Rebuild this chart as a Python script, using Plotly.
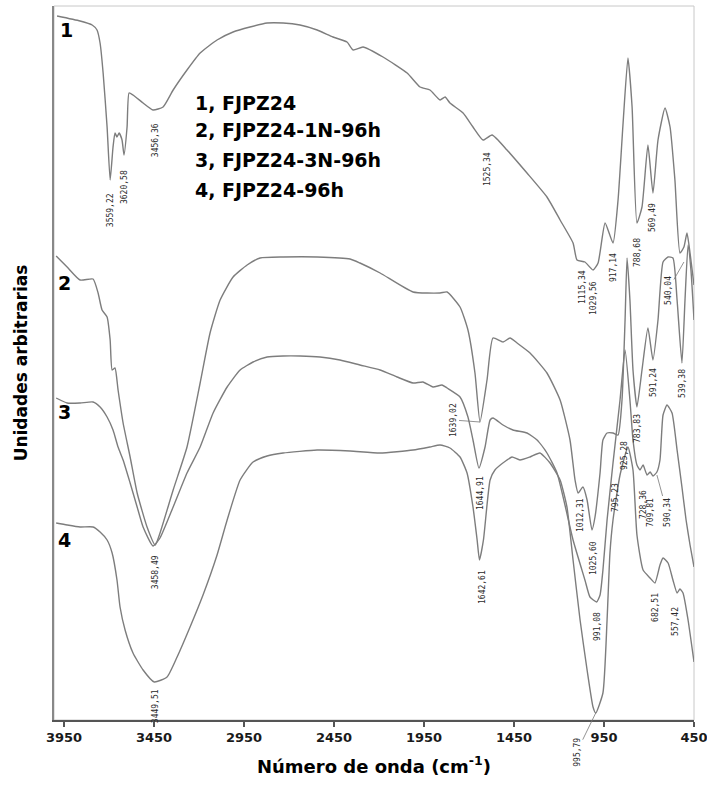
import plotly.graph_objects as go

# ---------------- data (wavenumber cm-1, arbitrary units) ----------------
wn1 = [3989, 3861, 3794, 3767, 3750, 3733, 3711, 3694, 3678, 3667, 3656, 3644, 3628, 3617, 3600, 3589, 3567,
       3511, 3456, 3400, 3344, 3267, 3194, 3100, 3011, 2917, 2822, 2733, 2639, 2544, 2456, 2378, 2344, 2289,
       2178, 2044, 1972, 1917, 1861, 1833, 1806, 1733, 1678, 1622, 1572, 1489, 1378, 1267, 1194, 1122, 1100,
       1056, 1011, 983, 944, 900, 872, 844, 817, 794, 767, 739, 706, 678, 650, 611, 583, 556, 528, 506, 489,
       472, 450]
ab1 = [704, 699, 695, 690, 677, 647, 593, 540, 573, 587, 583, 587, 580, 565, 593, 627, 625,
       617, 610, 613, 630, 650, 667, 680, 688, 693, 697, 697, 695, 690, 683, 678, 670, 673,
       663, 647, 633, 630, 620, 623, 617, 607, 593, 580, 585, 570, 547, 523, 500, 477, 460,
       458, 450, 457, 497, 477, 520, 597, 662, 613, 497, 513, 575, 527, 580, 612, 593, 540, 467, 473, 487,
       467, 435]

wn2 = [3994, 3933, 3861, 3789, 3761, 3739, 3711, 3694, 3683, 3667, 3650, 3622, 3583, 3544, 3489, 3444, 3417,
       3344, 3267, 3194, 3139, 3083, 3011, 2933, 2861, 2733, 2544, 2361, 2306, 2194, 2011, 1861, 1822, 1750,
       1706, 1667, 1639, 1600, 1567, 1511, 1472, 1433, 1361, 1267, 1194, 1139, 1111, 1094, 1067, 1044, 1017,
       1000, 972, 956, 933, 900, 872, 850, 833, 822, 806, 789, 767, 739, 706, 678, 650, 622, 594, 567, 544,
       517, 500, 483, 467, 450]
ab2 = [464, 453, 440, 441, 427, 410, 403, 380, 350, 352, 330, 297, 263, 227, 193, 175, 187,
       230, 273, 337, 387, 420, 443, 455, 462, 463, 463, 461, 457, 447, 428, 427, 428, 413,
       390, 347, 298, 340, 382, 378, 382, 377, 367, 347, 320, 280, 240, 227, 233, 220, 190,
       203, 247, 280, 287, 287, 285, 320, 400, 462, 420, 350, 313, 350, 392, 360, 400, 458, 463, 462, 420,
       357, 420, 475, 450, 400]

wn3 = [3994, 3933, 3861, 3789, 3750, 3711, 3678, 3650, 3622, 3583, 3544, 3511, 3456, 3417, 3344, 3267, 3194,
       3122, 3044, 2972, 2900, 2822, 2733, 2639, 2528, 2417, 2306, 2194, 2100, 2011, 1956, 1900, 1850, 1822,
       1750, 1706, 1678, 1645, 1611, 1583, 1567, 1511, 1456, 1378, 1322, 1267, 1211, 1167, 1122, 1056, 1028,
       991, 972, 956, 933, 900, 861, 833, 806, 789, 767, 750, 733, 711, 694, 678, 656, 639, 622, 600, 572,
       544, 517, 494, 472, 450]
ab3 = [322, 317, 317, 318, 313, 303, 290, 273, 260, 237, 213, 193, 174, 182, 213, 247, 273,
       307, 333, 350, 358, 363, 364, 364, 363, 360, 355, 350, 343, 337, 338, 333, 335, 332,
       323, 303, 280, 252, 273, 300, 302, 295, 290, 287, 280, 267, 247, 215, 180, 140, 123,
       118, 125, 150, 200, 257, 320, 370, 320, 280, 255, 250, 255, 245, 248, 244, 248, 260, 305, 315, 307,
       270, 233, 200, 175, 153]

wn4 = [3994, 3933, 3861, 3789, 3750, 3711, 3683, 3656, 3639, 3611, 3567, 3511, 3449, 3378, 3322, 3250, 3178,
       3100, 3044, 2972, 2900, 2822, 2733, 2544, 2361, 2194, 2011, 1917, 1861, 1806, 1750, 1711, 1678, 1655,
       1642, 1620, 1583, 1556, 1489, 1461, 1417, 1361, 1306, 1250, 1194, 1156, 1122, 1083, 1044, 1011, 996,
       956, 933, 917, 900, 861, 817, 789, 767, 733, 694, 667, 639, 622, 594, 567, 544, 528, 511, 483, 450]
ab4 = [197, 195, 193, 193, 188, 180, 167, 140, 113, 90, 67, 50, 38, 43, 63, 93, 125,
       165, 200, 240, 258, 264, 267, 270, 269, 267, 270, 273, 275, 272, 263, 247, 213, 180,
       160, 180, 240, 250, 260, 263, 260, 263, 267, 257, 240, 213, 160, 100, 50, 13, 7,
       27, 100, 167, 200, 245, 273, 250, 185, 150, 142, 137, 155, 162, 157, 140, 127, 131, 127, 100, 58]

series_names = ["1, FJPZ24", "2, FJPZ24-1N-96h", "3, FJPZ24-3N-96h", "4, FJPZ24-96h"]
curve_numbers = ["1", "2", "3", "4"]
curve_number_pos = [(3939, 690), (3950, 437), (3950, 308), (3950, 180)]

tick_vals = [3950, 3450, 2950, 2450, 1950, 1450, 950, 450]

# peak labels: (text, wavenumber, a.u.)
peak_labels = [
    ("3559,22", 3694, 510), ("3620,58", 3617, 533), ("3456,36", 3444, 580), ("1525,34", 1600, 551),
    ("1115,34", 1072, 433), ("1029,56", 1011, 422), ("917,14", 900, 452), ("788,68", 767, 468),
    ("569,49", 683, 502),
    ("3458,49", 3444, 148), ("1012,31", 1083, 205), ("925,28", 839, 265), ("783,83", 767, 292),
    ("591,24", 678, 338), ("539,38", 517, 337),
    ("1644,91", 1639, 227), ("1025,60", 1011, 162), ("991,08", 989, 94), ("795,23", 889, 223),
    ("728,36", 733, 215), ("709,81", 694, 207),
    ("3449,51", 3444, 14), ("1642,61", 1628, 133), ("682,51", 667, 113), ("557,42", 556, 99),
]
# labels with leader lines: (text, peak wavenumber, peak a.u., dx px, dy px)
leader_labels = [
    ("995,79", 996, 7, -19, 39),
    ("540,04", 506, 458, -16, 28),
    ("1639,02", 1639, 298, -27, -2),
    ("590,34", 656, 245, 10, 37),
]

# ---------------- figure ----------------
fig = go.Figure()
line_style = dict(color="#7d7d7d", width=1.4, shape="spline", smoothing=0.5)
for wn, ab, nm in [(wn1, ab1, series_names[0]), (wn2, ab2, series_names[1]),
                   (wn3, ab3, series_names[2]), (wn4, ab4, series_names[3])]:
    fig.add_trace(go.Scatter(x=wn, y=ab, mode="lines", name=nm, line=line_style,
                             showlegend=False, hoverinfo="x+y+name"))

annotations = []
lab_font = dict(family="DejaVu Sans Mono", size=8, color="#2a2a2a")
for t, x, y in peak_labels:
    annotations.append(dict(x=x, y=y, xref="x", yref="y", text=t, showarrow=False,
                            textangle=-90, font=lab_font))
for t, x, y, dx, dy in leader_labels:
    annotations.append(dict(x=x, y=y, xref="x", yref="y", text=t, showarrow=True,
                            arrowhead=0, arrowwidth=0.8, arrowcolor="#777", ax=dx, ay=dy,
                            textangle=-90, font=lab_font))

big_font = dict(family="DejaVu Sans", size=19, color="black", weight="bold")
for t, (x, y) in zip(curve_numbers, curve_number_pos):
    annotations.append(dict(x=x, y=y, xref="x", yref="y", text=t, showarrow=False,
                            font=big_font))
legend_y = [617, 590, 560, 530]
for t, y in zip(series_names, legend_y):
    annotations.append(dict(x=3233, y=y, xref="x", yref="y", text=t, showarrow=False,
                            xanchor="left", font=big_font))

fig.update_layout(
    width=707, height=797,
    margin=dict(l=54, r=13, t=6, b=77, autoexpand=False),
    paper_bgcolor="white", plot_bgcolor="white",
    annotations=annotations,
    shapes=[dict(type="rect", xref="paper", yref="paper", x0=0, x1=1, y0=0, y1=1,
                 line=dict(color="#c8c8c8", width=1), layer="below")],
)
fig.update_xaxes(
    range=[4006, 450], tickvals=tick_vals, ticktext=[str(v) for v in tick_vals],
    ticks="outside", ticklen=5, tickcolor="#555", tickwidth=1.5, automargin=False,
    ticklabeloverflow="allow",
    showline=True, linecolor="#555", linewidth=1.5, showgrid=False, zeroline=False,
    tickfont=dict(family="DejaVu Sans", size=13, color="#1a1a1a", weight="bold"),
    title=dict(text="Número de onda (cm<sup>-1</sup>)", standoff=16,
               font=dict(family="DejaVu Sans", size=18, color="black", weight="bold")),
)
fig.update_yaxes(
    range=[0, 714], showticklabels=False, ticks="", showgrid=False, zeroline=False,
    showline=True, linecolor="#888", linewidth=1.5, automargin=False,
    title=dict(text="Unidades arbitrarias", standoff=20,
               font=dict(family="DejaVu Sans", size=17, color="black", weight="bold")),
)

fig.write_html("out.html", config={"displayModeBar": False},
               post_script="document.body.style.margin='0';document.body.style.overflow='hidden';")
